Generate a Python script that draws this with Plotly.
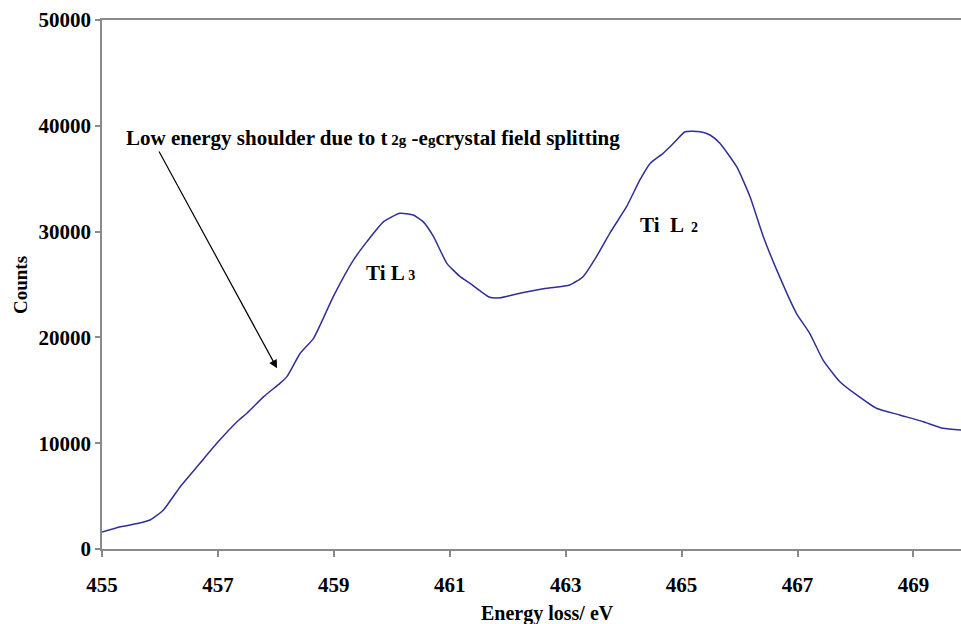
import plotly.graph_objects as go

energy = [455.0, 455.32, 455.63, 455.83, 456.06, 456.35, 456.69, 456.98, 457.33, 457.5,
          457.79, 458.07, 458.19, 458.42, 458.65, 458.99, 459.34, 459.57, 459.86, 460.14,
          460.37, 460.54, 460.72, 460.95, 461.18, 461.35, 461.69, 461.87, 462.21, 462.67,
          463.07, 463.30, 463.53, 463.76, 464.05, 464.28, 464.46, 464.68, 464.86, 465.06,
          465.32, 465.49, 465.66, 465.95, 466.18, 466.41, 466.69, 466.98, 467.21, 467.44,
          467.73, 468.02, 468.36, 468.76, 469.17, 469.51, 469.82]
counts = [1600, 2100, 2430, 2740, 3690, 5890, 8100, 9990, 12030, 12830,
          14400, 15660, 16290, 18500, 19910, 23850, 27320, 29050, 30940, 31730,
          31570, 30940, 29520, 27000, 25740, 25110, 23790, 23750, 24170, 24640,
          24950, 25740, 27630, 29840, 32350, 34880, 36460, 37400, 38350, 39440,
          39440, 39130, 38350, 36130, 33300, 29520, 25740, 22280, 20390, 17860,
          15810, 14560, 13300, 12670, 12030, 11410, 11250]

x_ticks = [455, 457, 459, 461, 463, 465, 467, 469]
y_ticks = [0, 10000, 20000, 30000, 40000, 50000]

FONT = "Liberation Serif"
W, H = 961, 624
ML, MR, MT, MB = 102, 0, 20, 75
PW, PH = W - ML - MR, H - MT - MB

def px(xp):
    return (xp - ML) / PW

def py(yp):
    return (H - MB - yp) / PH

fig = go.Figure()
fig.add_trace(go.Scatter(x=energy, y=counts, mode="lines",
                         line=dict(color="#2f2f96", width=1.5, shape="spline", smoothing=0.5),
                         showlegend=False, hoverinfo="skip"))

axis_common = dict(showgrid=False, zeroline=False, showline=True, linecolor="#8a8a8a",
                   linewidth=1.5, ticks="outside", tickcolor="#8a8a8a",
                   tickwidth=1.5,
                   tickfont=dict(family=FONT, size=21, color="black", weight="bold"))

fig.update_xaxes(range=[455, 469.82], tickvals=x_ticks, ticktext=[str(v) for v in x_ticks],
                 mirror=True, ticklen=6, ticklabelstandoff=10, **axis_common)
fig.update_yaxes(range=[0, 50000], tickvals=y_ticks, ticktext=[str(v) for v in y_ticks],
                 ticklen=5, **axis_common)

ann_font = dict(family=FONT, size=21, color="black", weight="bold")

fig.add_annotation(x=458.02, y=17080, ax=455.97, ay=37710, xref="x", yref="y",
                   axref="x", ayref="y", text="", showarrow=True, arrowhead=2,
                   arrowsize=1.4, arrowwidth=1.2, arrowcolor="black")
fig.add_annotation(x=px(124), y=py(138), xref="paper", yref="paper", xanchor="left",
                   yanchor="middle", showarrow=False, font=ann_font,
                   text="Low energy shoulder due to t<span style='font-size:15px'> 2g</span> -e<span style='font-size:15px'>g</span>crystal field splitting")
fig.add_annotation(x=px(390), y=py(273), xref="paper", yref="paper", showarrow=False,
                   xanchor="center", yanchor="middle",
                   font=ann_font, text="Ti L<span style='font-size:14px'> 3</span>")
fig.add_annotation(x=px(669), y=py(225), xref="paper", yref="paper", showarrow=False,
                   xanchor="center", yanchor="middle",
                   font=ann_font, text="Ti  L<span style='font-size:14px'>  2</span>")
fig.add_annotation(x=px(20), y=py(285), xref="paper", yref="paper", showarrow=False,
                   xanchor="center", yanchor="middle",
                   textangle=-90, font=dict(family=FONT, size=19, color="black", weight="bold"),
                   text="Counts")
fig.add_annotation(x=px(547), y=py(613), xref="paper", yref="paper", showarrow=False,
                   xanchor="center", yanchor="middle",
                   font=dict(family=FONT, size=20, color="black", weight="bold"),
                   text="Energy loss/ eV")

fig.update_layout(width=W, height=H, margin=dict(l=ML, r=MR, t=MT, b=MB),
                  plot_bgcolor="white", paper_bgcolor="white")

fig.write_html("out.html")
